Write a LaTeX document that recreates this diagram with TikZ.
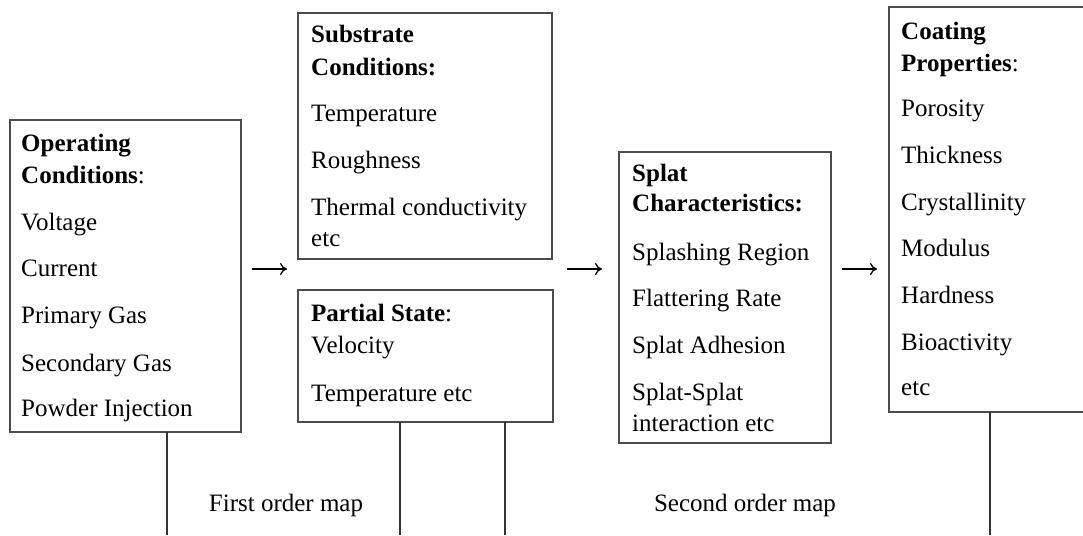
\documentclass[tikz,border=0pt]{standalone}
\usepackage{fontspec}
\setmainfont{Liberation Serif}
\usetikzlibrary{arrows.meta}

\begin{document}
\begin{tikzpicture}[x=1pt, y=-1pt,
  box/.style={draw=black!70, line width=1.6pt, anchor=north west, inner sep=0pt, outer sep=0pt},
  item/.style={anchor=base west, inner sep=0pt, font=\fontsize{25}{30}\selectfont},
  maplabel/.style={anchor=base, inner sep=0pt, font=\fontsize{25}{30}\selectfont},
  flow/.style={-{To[length=7pt,width=12pt]}, line width=1.3pt},
  stem/.style={draw=black!80, line width=1.2pt}]
  \useasboundingbox (0,0) rectangle (1083,535);

  % boxes
  \node[box, minimum width=231pt, minimum height=312pt] (op) at (10,120) {};
  \node[box, minimum width=254pt, minimum height=246pt] (sub) at (298,13) {};
  \node[box, minimum width=255pt, minimum height=132pt] (part) at (298,290) {};
  \node[box, minimum width=212pt, minimum height=291pt] (splat) at (619,152) {};
  \node[box, minimum width=220pt, minimum height=405pt] (coat) at (889,7) {};

  % operating conditions
  \foreach \y/\t [count=\i] in {151/{\textbf{Operating}}, 183/{\textbf{Conditions}:},
      230/Voltage, 276/Current, 323/Primary Gas, 371/Secondary Gas, 416/Powder Injection}
    \node[item] (op-\i) at (21,\y) {\t};

  % substrate conditions
  \foreach \y/\t [count=\i] in {43/{\textbf{Substrate}}, 75/{\textbf{Conditions:}},
      121/Temperature, 168/Roughness, 215/Thermal conductivity, 246/etc}
    \node[item] (sub-\i) at (311,\y) {\t};

  % partial state
  \foreach \y/\t [count=\i] in {321/{\textbf{Partial State}:}, 353/Velocity, 401/Temperature etc}
    \node[item] (part-\i) at (311,\y) {\t};

  % splat characteristics
  \foreach \y/\t [count=\i] in {181/{\textbf{Splat}}, 211/{\textbf{Characteristics:}},
      260/Splashing Region, 306/Flattering Rate, 353/Splat Adhesion,
      400/Splat-Splat, 431/interaction etc}
    \node[item] (splat-\i) at (632,\y) {\t};

  % coating properties
  \foreach \y/\t [count=\i] in {40/{\textbf{Coating}}, 71/{\textbf{Properties}:},
      116/Porosity, 163/Thickness, 210/Crystallinity, 256/Modulus,
      303/Hardness, 350/Bioactivity, 395/etc}
    \node[item] (coat-\i) at (901,\y) {\t};

  % arrows between stages
  \draw[flow, shorten <=11pt, shorten >=11pt] (op.east |- 0,269) -- (sub.west |- 0,269);
  \draw[flow, shorten <=15pt, shorten >=17pt] (sub.east |- 0,269) -- (splat.west |- 0,269);
  \draw[flow, shorten <=11pt, shorten >=12pt] (splat.east |- 0,269) -- (coat.west |- 0,269);

  % map brackets
  \draw[stem] (op.south -| 167,0) -- (167,535);
  \draw[stem] (part.south -| 400,0) -- (400,535);
  \draw[stem] (part.south -| 505,0) -- (505,535);
  \draw[stem] (coat.south -| 990,0) -- (990,535);
  \node[maplabel] (first) at (286,511) {First order map};
  \node[maplabel] (second) at (745,511) {Second order map};
\end{tikzpicture}
\end{document}
